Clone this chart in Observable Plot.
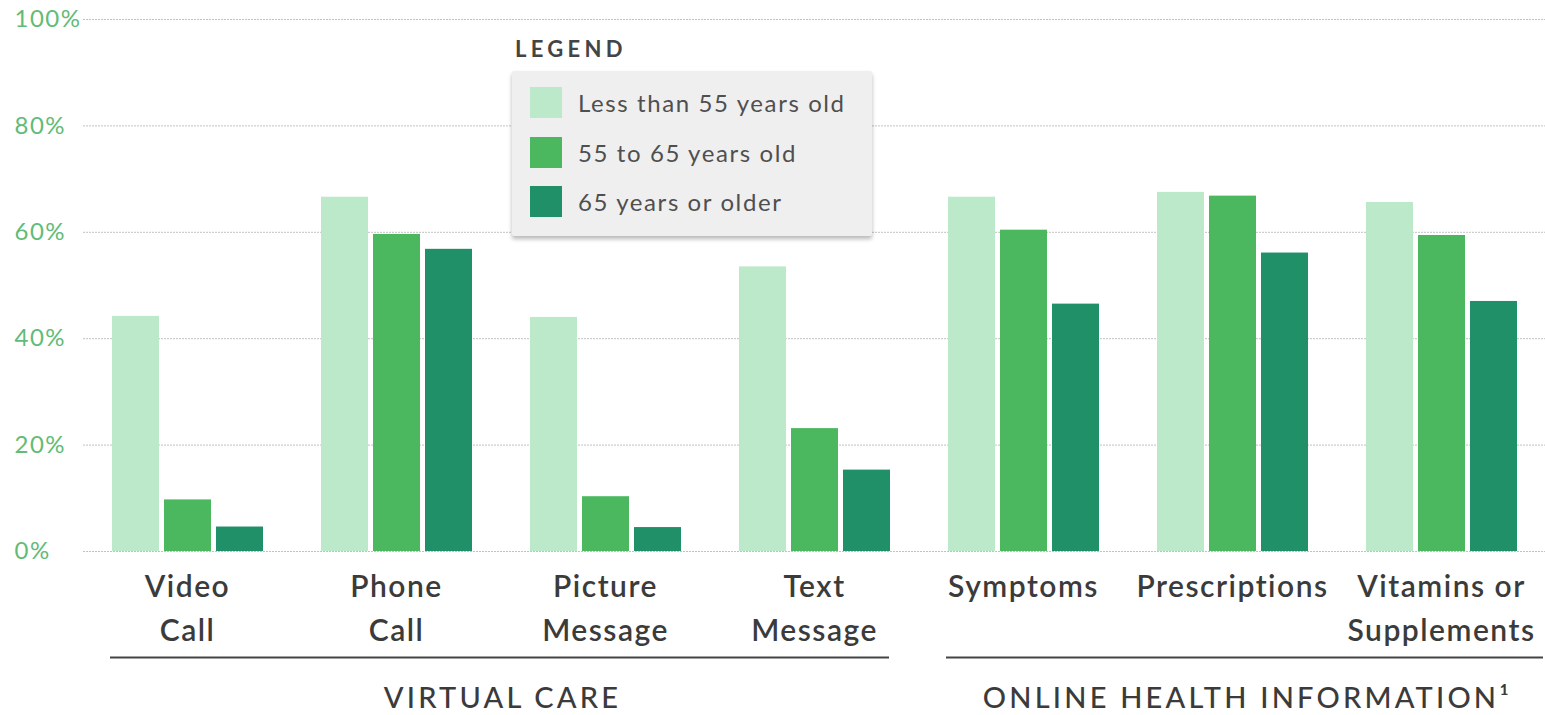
<!DOCTYPE html>
<html>
<head>
<meta charset="utf-8">
<script src="https://cdn.jsdelivr.net/npm/d3@7"></script>
<script src="https://cdn.jsdelivr.net/npm/@observablehq/plot@0.6"></script>
<style>
  html, body { margin: 0; padding: 0; background: #fff; }
  #wrap { position: relative; width: 1545px; height: 715px; overflow: hidden; font-family: Lato, "Open Sans", sans-serif; }
  #wrap > svg { position: absolute; left: 0; top: 0; }
  #legendTitle { position: absolute; left: 515px; top: 38px; font-size: 22px; line-height: 22px; font-weight: 700; letter-spacing: 4.3px; color: #444; }
  #legendBox { position: absolute; left: 512px; top: 71px; width: 360px; height: 165px; box-sizing: border-box; padding: 16px 0 0 18px; background: #efefef; border-radius: 2px; box-shadow: 0 3px 4px rgba(0,0,0,0.28); }
  .lrow { display: flex; align-items: center; height: 31px; margin-bottom: 18.5px; }
  .lsw { width: 32px; height: 31px; margin-right: 16px; flex: none; }
  .ltx { font-size: 24px; letter-spacing: 1.6px; color: #4f4f4f; white-space: nowrap; }
</style>
</head>
<body>
<div id="wrap"></div>
<script>
// ---- data ----
const categories = ["Video Call", "Phone Call", "Picture Message", "Text Message", "Symptoms", "Prescriptions", "Vitamins or Supplements"];
const categoryLabels = ["Video\nCall", "Phone\nCall", "Picture\nMessage", "Text\nMessage", "Symptoms", "Prescriptions", "Vitamins or\nSupplements"];
const ageGroups = ["Less than 55 years old", "55 to 65 years old", "65 years or older"];
const under55 = [44.2, 66.6, 44.0, 53.5, 66.6, 67.5, 65.6];
const from55to65 = [9.7, 59.6, 10.3, 23.1, 60.4, 66.8, 59.4];
const over65 = [4.6, 56.8, 4.5, 15.3, 46.5, 56.1, 47.0];
const ageColors = ["#bde9cb", "#4bb860", "#1f9068"];
const yTicks = [0, 20, 40, 60, 80, 100];
const sectionNames = ["VIRTUAL CARE", "ONLINE HEALTH INFORMATION\u00B9"];
const sectionFirst = ["Video Call", "Symptoms"];
const sectionLast = ["Text Message", "Vitamins or Supplements"];

const series = [under55, from55to65, over65];
const data = [];
categories.forEach((c, i) => {
  ageGroups.forEach((a, j) => data.push({category: c, age: a, value: series[j][i]}));
});

const W = 1545, H = 715;
const frame = {width: W, height: H, marginLeft: 83, marginRight: 0, marginTop: 19, marginBottom: 164};
const fontFam = "Lato, 'Open Sans', sans-serif";

// background: grid + y tick labels
const back = Plot.plot({
  ...frame,
  style: {fontFamily: fontFam, letterSpacing: "1.5px", background: "transparent", overflow: "visible"},
  x: {axis: null},
  y: {domain: [0, 100], axis: null},
  marks: [
    Plot.ruleY(yTicks, {stroke: "#c2c2c2", strokeWidth: 1, strokeDasharray: "2,1"}),
    Plot.text(yTicks, {y: d => d, text: d => `${d}%`, frameAnchor: "left", textAnchor: "start", dx: -69, fill: "#62bb76", fontSize: 24})
  ]
});

// foreground: grouped bars
const chart = Plot.plot({
  ...frame,
  style: {fontFamily: fontFam, letterSpacing: "1.5px", background: "transparent", overflow: "visible"},
  fx: {domain: categories, paddingInner: 0.273, paddingOuter: 0.134, axis: null, label: null},
  x: {domain: ageGroups, paddingInner: 0.1, paddingOuter: 0, axis: null, label: null},
  y: {domain: [0, 100], axis: null},
  color: {domain: ageGroups, range: ageColors},
  marks: [
    Plot.barY(data, {fx: "category", x: "age", y: "value", fill: "age"}),
    Plot.text(categories, {fx: d => d, text: (d, i) => categoryLabels[i], frameAnchor: "bottom", lineAnchor: "top", dy: 15, fontSize: 30, lineHeight: 1.45, fill: "#3b3b3b", fontWeight: 600})
  ]
});

const wrap = document.getElementById("wrap");
wrap.appendChild(back);
wrap.appendChild(chart);

// ---- section annotations positioned from the fx scale ----
const fxs = chart.scale("fx");
let fxApply;
if (fxs && typeof fxs.apply === "function") {
  fxApply = v => fxs.apply(v);
} else {
  const b = d3.scaleBand().domain(fxs.domain).range(fxs.range)
    .paddingInner(fxs.paddingInner ?? 0.273).paddingOuter(fxs.paddingOuter ?? 0.134)
    .align(fxs.align ?? 0.5).round(!!fxs.round);
  fxApply = v => b(v);
}
const bw = fxs.bandwidth;
const svg = d3.select(chart);
const g = svg.append("g");
sectionNames.forEach((name, k) => {
  const x1 = fxApply(sectionFirst[k]) - 1;
  const x2 = k === sectionNames.length - 1 ? W - 2 : fxApply(sectionLast[k]) + bw - 1;
  g.append("line").attr("x1", x1).attr("x2", x2).attr("y1", 657.5).attr("y2", 657.5)
    .attr("stroke", "#444").attr("stroke-width", 2);
  g.append("text").attr("x", (x1 + x2) / 2 + 3).attr("y", 708).attr("text-anchor", "middle")
    .attr("font-size", 29).attr("letter-spacing", "3.2px").attr("fill", "#3b3b3b").attr("font-weight", 500)
    .text(name);
});

// ---- legend (HTML) ----
const lt = document.createElement("div");
lt.id = "legendTitle";
lt.textContent = "LEGEND";
wrap.appendChild(lt);
const lb = document.createElement("div");
lb.id = "legendBox";
ageGroups.forEach((a, j) => {
  const row = document.createElement("div");
  row.className = "lrow";
  const sw = document.createElement("div");
  sw.className = "lsw";
  sw.style.background = ageColors[j];
  const tx = document.createElement("div");
  tx.className = "ltx";
  tx.textContent = a;
  row.appendChild(sw);
  row.appendChild(tx);
  lb.appendChild(row);
});
wrap.appendChild(lb);
</script>
</body>
</html>
